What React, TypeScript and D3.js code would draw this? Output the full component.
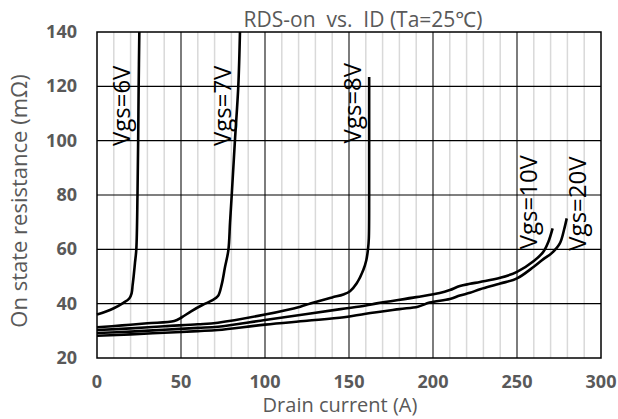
import * as d3 from 'd3'
import React, { useEffect, useRef } from 'react'

// drain current (A) vs on-state resistance (mΩ)
const vgs6 = [
    [0, 36.0], [5, 37.0], [10, 38.3], [15.7, 40.3], [19.2, 41.9], [20.6, 43.8], [21.2, 46.8],
    [21.8, 50], [22.6, 55], [23.4, 60], [24.1, 80], [24.5, 100], [24.8, 120], [25.2, 140],
]
const vgs7 = [
    [0, 31.3], [15, 32.0], [30, 32.8], [46, 33.6], [50.5, 35], [56, 37.2], [63, 39.6],
    [68.5, 41.2], [72, 42.8], [74.2, 47], [76.2, 53.5], [78.2, 59.7], [79.2, 70], [80.2, 80],
    [82.1, 100], [84.1, 120], [85.1, 140],
]
const vgs8 = [
    [0, 30.3], [20, 30.9], [40, 31.7], [60, 32.4], [72, 33.0], [100, 36.0], [121, 38.9],
    [127, 40.1], [140, 42.3], [146.6, 43.4], [150.6, 44.6], [154.6, 47.5], [158.5, 52.4],
    [160.3, 56], [161.3, 60], [161.8, 64], [162, 80], [162, 100], [162, 123.4],
]
const vgs10 = [
    [0, 29.2], [20, 29.7], [40, 30.4], [60, 31.1], [72, 31.5], [100, 34.0], [125, 36.2],
    [145, 38.0], [160, 39.3], [166.5, 40.1], [190, 42.4], [204, 43.9], [210, 45.0],
    [216, 46.5], [222, 47.3], [228, 48.0], [240, 49.5], [250, 51.7], [260, 55.7],
    [265.7, 59.1], [268.7, 62.8], [271.2, 67.7],
]
const vgs20 = [
    [0, 28.2], [20, 28.7], [40, 29.3], [60, 29.9], [72, 30.3], [100, 32.3], [125, 33.7],
    [147, 35.0], [160, 36.3], [180, 38.0], [191, 38.9], [198, 40.4], [210, 41.7],
    [216, 43.0], [222, 44.0], [228, 45.3], [240, 47.4], [250, 49.3], [260, 53.6],
    [265.7, 56.4], [270.5, 58.5], [275.5, 62.2], [278, 67.2], [279.6, 71.4],
]
const series = [vgs6, vgs7, vgs8, vgs10, vgs20]

// curve labels: text, current (A) of the baseline, resistance at the start of the text
const labelText = ['Vgs=6V', 'Vgs=7V', 'Vgs=8V', 'Vgs=10V', 'Vgs=20V']
const labelAt = [[19.4, 98], [79.5, 98], [157, 99], [262, 60], [291, 59.5]]

const xTicks = [0, 50, 100, 150, 200, 250, 300]
const xMinor = d3.range(0, 301, 10)
const yTicks = [20, 40, 60, 80, 100, 120, 140]

const App = (): JSX.Element => {
    const ref = useRef<SVGSVGElement>(null)

    useEffect(() => {
        const width = 618
        const height = 419
        const left = 97
        const right = 601
        const top = 32
        const bottom = 358
        const gray = '#595959'
        const font = "'Open Sans', 'Noto Sans', sans-serif"

        const x = d3.scaleLinear().domain([0, 300]).range([left, right])
        const y = d3.scaleLinear().domain([20, 140]).range([bottom, top])

        const svg = d3.select(ref.current)
        svg.selectAll('*').remove()
        svg.attr('width', width).attr('height', height)

        svg.append('rect').attr('width', width).attr('height', height).attr('fill', '#fff')

        // minor vertical grid
        svg.append('g')
            .selectAll('line')
            .data(xMinor.filter((d) => d % 50 !== 0))
            .enter()
            .append('line')
            .attr('x1', (d) => x(d))
            .attr('x2', (d) => x(d))
            .attr('y1', top)
            .attr('y2', bottom)
            .style('stroke', '#d9d9d9')
            .style('stroke-width', 1.5)

        // major grid
        svg.append('g')
            .selectAll('line')
            .data(xTicks.slice(1, -1))
            .enter()
            .append('line')
            .attr('x1', (d) => x(d))
            .attr('x2', (d) => x(d))
            .attr('y1', top)
            .attr('y2', bottom)
            .style('stroke', '#262626')
            .style('stroke-width', 1.2)
        svg.append('g')
            .selectAll('line')
            .data(yTicks.slice(1, -1))
            .enter()
            .append('line')
            .attr('x1', left)
            .attr('x2', right)
            .attr('y1', (d) => y(d))
            .attr('y2', (d) => y(d))
            .style('stroke', '#000')
            .style('stroke-width', 1.2)

        svg.append('rect')
            .attr('x', left)
            .attr('y', top)
            .attr('width', right - left)
            .attr('height', bottom - top)
            .attr('fill', 'none')
            .style('stroke', '#000')
            .style('stroke-width', 1.5)

        // curves
        const line = d3
            .line<number[]>()
            .x((d) => x(d[0]))
            .y((d) => y(d[1]))
            .curve(d3.curveCatmullRom.alpha(0.5))
        svg.append('g')
            .selectAll('path')
            .data(series)
            .enter()
            .append('path')
            .attr('d', (d) => line(d))
            .attr('fill', 'none')
            .style('stroke', '#000')
            .style('stroke-width', 2.6)
            .style('stroke-linejoin', 'round')

        // curve labels
        svg.append('g')
            .selectAll('text')
            .data(labelText)
            .enter()
            .append('text')
            .attr('transform', (d, i) => `translate(${x(labelAt[i][0])},${y(labelAt[i][1])}) rotate(-90)`)
            .style('font-family', font)
            .style('font-size', '24px')
            .style('fill', '#000')
            .text((d) => d)

        // tick labels
        svg.append('g')
            .selectAll('text')
            .data(yTicks)
            .enter()
            .append('text')
            .attr('x', 77)
            .attr('y', (d) => y(d) + 6)
            .attr('text-anchor', 'end')
            .style('font-family', font)
            .style('font-size', '18px')
            .style('font-weight', 700)
            .style('fill', gray)
            .text((d) => d)
        svg.append('g')
            .selectAll('text')
            .data(xTicks)
            .enter()
            .append('text')
            .attr('x', (d) => x(d))
            .attr('y', 388)
            .attr('text-anchor', 'middle')
            .style('font-family', font)
            .style('font-size', '18px')
            .style('font-weight', 700)
            .style('fill', gray)
            .text((d) => d)

        // titles
        svg.append('text')
            .attr('x', 363)
            .attr('y', 27)
            .attr('text-anchor', 'middle')
            .style('font-family', font)
            .style('font-size', '21px')
            .style('fill', gray)
            .style('white-space', 'pre')
            .text('RDS-on  vs.  ID (Ta=25℃)')
        svg.append('text')
            .attr('x', 340)
            .attr('y', 412)
            .attr('text-anchor', 'middle')
            .style('font-family', font)
            .style('font-size', '20px')
            .style('fill', gray)
            .text('Drain current (A)')
        svg.append('text')
            .attr('transform', 'translate(27,201) rotate(-90)')
            .attr('text-anchor', 'middle')
            .style('font-family', font)
            .style('font-size', '22px')
            .style('fill', gray)
            .text('On state resistance (mΩ)')
    }, [])

    return <svg ref={ref} style={{ position: 'absolute', left: 0, top: 0, display: 'block' }} />
}

export default App
